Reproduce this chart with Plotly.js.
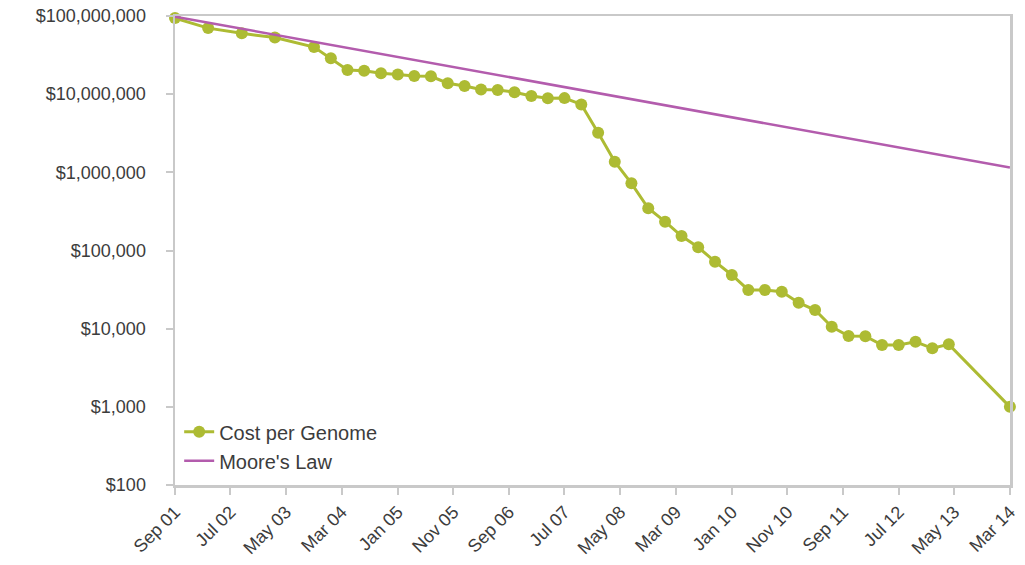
<!DOCTYPE html>
<html>
<head>
<meta charset="utf-8">
<script src="https://cdn.plot.ly/plotly-3.0.1.min.js"></script>
<style>
html,body{margin:0;padding:0;background:#fff;}
#chart{width:1025px;height:565px;}
</style>
</head>
<body>
<div id="chart"></div>
<script>
// Cost per genome (quarterly readings)
const costDates = [
  "2001-09-01","2002-03-01","2002-09-01","2003-03-01","2003-10-01",
  "2004-01-01","2004-04-01","2004-07-01","2004-10-01",
  "2005-01-01","2005-04-01","2005-07-01","2005-10-01",
  "2006-01-01","2006-04-01","2006-07-01","2006-10-01",
  "2007-01-01","2007-04-01","2007-07-01","2007-10-01",
  "2008-01-01","2008-04-01","2008-07-01","2008-10-01",
  "2009-01-01","2009-04-01","2009-07-01","2009-10-01",
  "2010-01-01","2010-04-01","2010-07-01","2010-10-01",
  "2011-01-01","2011-04-01","2011-07-01","2011-10-01",
  "2012-01-01","2012-04-01","2012-07-01","2012-10-01",
  "2013-01-01","2013-04-01","2014-03-01"
];
const costValues = [
  94000000, 70000000, 60000000, 53000000, 40000000,
  28800000, 20400000, 19900000, 18500000,
  17900000, 17100000, 16900000, 13800000,
  12700000, 11500000, 11300000, 10600000,
  9500000, 8850000, 8900000, 7400000,
  3200000, 1370000, 724000, 347000,
  234000, 153000, 110000, 72000,
  48600, 31300, 31300, 29700,
  21500, 17300, 10600, 8060,
  8000, 6180, 6180, 6800,
  5610, 6300, 1000
];

// Moore's Law reference line
const mooreDates = ["2001-09-01", "2014-03-01"];
const mooreValues = [98000000, 1150000];

// Axis ticks
const xTickVals = [
  "2001-09-01","2002-07-01","2003-05-01","2004-03-01","2005-01-01","2005-11-01",
  "2006-09-01","2007-07-01","2008-05-01","2009-03-01","2010-01-01","2010-11-01",
  "2011-09-01","2012-07-01","2013-05-01","2014-03-01"
];
const xTickText = [
  "Sep 01","Jul 02","May 03","Mar 04","Jan 05","Nov 05","Sep 06","Jul 07",
  "May 08","Mar 09","Jan 10","Nov 10","Sep 11","Jul 12","May 13","Mar 14"
];
const yTickVals = [100, 1000, 10000, 100000, 1000000, 10000000, 100000000];
const yTickText = ["$100","$1,000","$10,000","$100,000","$1,000,000","$10,000,000","$100,000,000"];

const green = "#adbb33";
const purple = "#b35cad";
const axisGray = "#c9c9c9";
const textGray = "#3c3c3c";

const traces = [
  {
    x: costDates, y: costValues, name: "Cost per Genome",
    type: "scatter", mode: "lines+markers",
    line: {color: green, width: 3},
    marker: {color: green, size: 12},
    cliponaxis: false
  },
  {
    x: mooreDates, y: mooreValues, name: "Moore's Law",
    type: "scatter", mode: "lines",
    line: {color: purple, width: 2.5},
    cliponaxis: false
  }
];

const layout = {
  width: 1025, height: 565,
  margin: {l: 175, r: 15, t: 16, b: 80},
  paper_bgcolor: "#ffffff",
  plot_bgcolor: "#ffffff",
  font: {family: "Liberation Sans, Arial, sans-serif", size: 19, color: textGray},
  showlegend: true,
  legend: {
    x: 0.005, y: 0.155, xanchor: "left", yanchor: "top",
    bgcolor: "rgba(0,0,0,0)",
    font: {size: 20, color: textGray},
    tracegroupgap: 0
  },
  xaxis: {
    type: "date",
    range: ["2001-09-01", "2014-03-01 12:00"],
    tickmode: "array", tickvals: xTickVals, ticktext: xTickText,
    tickangle: -45,
    ticklabeloverflow: "allow",
    ticks: "outside", ticklen: 7, tickwidth: 2, tickcolor: axisGray,
    showline: true, linecolor: axisGray, linewidth: 2.5, mirror: true,
    showgrid: false, zeroline: false,
    tickfont: {size: 18, color: textGray}
  },
  yaxis: {
    type: "log",
    range: [2, 8],
    tickmode: "array", tickvals: yTickVals, ticktext: yTickText,
    ticks: "outside", ticklen: 7, tickwidth: 2, tickcolor: axisGray,
    ticklabelstandoff: 16,
    showline: true, linecolor: axisGray, linewidth: 2.5, mirror: true,
    showgrid: false, zeroline: false,
    tickfont: {size: 18, color: textGray}
  }
};

Plotly.newPlot("chart", traces, layout, {displayModeBar: false, staticPlot: true});
</script>
</body>
</html>
